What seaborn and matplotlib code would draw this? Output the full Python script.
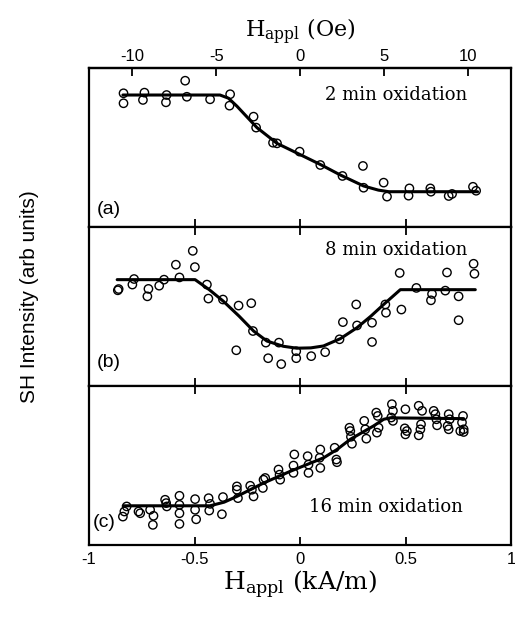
"""
Second-harmonic intensity vs applied field for three oxidation times.
Three stacked panels sharing the field axis (kA/m bottom, Oe on top).
"""

import numpy as np
import pandas as pd
import matplotlib
matplotlib.use("Agg")
import matplotlib.pyplot as plt
import seaborn as sns

# ---- panel (a): 2 min oxidation ----
a_x = [-0.837, -0.837, -0.738, -0.745, -0.633, -0.636, -0.545, -0.537, -0.427,
       -0.332, -0.335, -0.221, -0.209, -0.129, -0.110, -0.003, 0.095, 0.200,
       0.297, 0.300, 0.395, 0.411, 0.517, 0.513, 0.616, 0.619, 0.703, 0.719,
       0.818, 0.833]
a_y = [0.841, 0.778, 0.845, 0.799, 0.830, 0.784, 0.920, 0.819, 0.803,
       0.835, 0.763, 0.694, 0.625, 0.530, 0.526, 0.474, 0.390, 0.321,
       0.384, 0.247, 0.279, 0.191, 0.243, 0.197, 0.243, 0.222, 0.195, 0.208,
       0.253, 0.228]
a_fit_x = [-0.84, -0.38, -0.34, -0.30, -0.205, -0.11, 0.0, 0.10, 0.19, 0.30,
           0.37, 0.42, 0.84]
a_fit_y = [0.83, 0.83, 0.81, 0.76, 0.625, 0.526, 0.455, 0.39, 0.327, 0.258,
           0.232, 0.222, 0.222]

# ---- panel (b): 8 min oxidation ----
b_x = [-0.864, -0.860, -0.795, -0.787, -0.719, -0.724, -0.668, -0.645, -0.589,
       -0.572, -0.509, -0.499, -0.442, -0.435, -0.366, -0.292, -0.232, -0.224,
       -0.303, -0.163, -0.101, -0.152, -0.090, -0.019, -0.019, 0.052, 0.118,
       0.186, 0.202, 0.265, 0.269, 0.340, 0.340, 0.403, 0.406, 0.471, 0.479,
       0.550, 0.624, 0.619, 0.687, 0.695, 0.750, 0.750, 0.821, 0.825]
b_y = [0.602, 0.610, 0.638, 0.673, 0.611, 0.564, 0.631, 0.669, 0.763,
       0.683, 0.850, 0.748, 0.638, 0.550, 0.544, 0.506, 0.521, 0.346,
       0.225, 0.273, 0.273, 0.175, 0.138, 0.219, 0.175, 0.188, 0.213,
       0.294, 0.402, 0.513, 0.381, 0.398, 0.277, 0.513, 0.461, 0.711, 0.481,
       0.617, 0.579, 0.539, 0.600, 0.714, 0.564, 0.414, 0.769, 0.706]
b_fit_x = [-0.867, -0.498, -0.43, -0.364, -0.29, -0.221, -0.158, -0.08, -0.016,
           0.05, 0.110, 0.190, 0.269, 0.335, 0.395, 0.474, 0.829]
b_fit_y = [0.669, 0.669, 0.605, 0.533, 0.44, 0.346, 0.283, 0.25, 0.238,
           0.24, 0.252, 0.298, 0.367, 0.44, 0.513, 0.606, 0.606]

# ---- panel (c): 16 min oxidation ----
c_x = [-0.840, -0.833, -0.822, -0.766, -0.758, -0.711, -0.695, -0.698, -0.640,
       -0.635, -0.632, -0.572, -0.572, -0.572, -0.572, -0.498, -0.498, -0.493,
       -0.434, -0.427, -0.431, -0.366, -0.371, -0.300, -0.300, -0.295, -0.237,
       -0.229, -0.221, -0.174, -0.166, -0.177, -0.103, -0.098, -0.095, -0.028,
       -0.032, -0.032, 0.035, 0.039, 0.039, 0.095, 0.092, 0.095, 0.163, 0.171,
       0.174, 0.233, 0.237, 0.240, 0.245, 0.303, 0.308, 0.313, 0.360, 0.367,
       0.363, 0.371, 0.434, 0.439, 0.431, 0.439, 0.498, 0.495, 0.498, 0.505,
       0.561, 0.577, 0.572, 0.569, 0.561, 0.632, 0.640, 0.645, 0.648, 0.703,
       0.708, 0.698, 0.703, 0.771, 0.766, 0.774, 0.758, 0.774]
c_y = [0.179, 0.211, 0.243, 0.211, 0.200, 0.222, 0.184, 0.127, 0.285,
       0.264, 0.243, 0.310, 0.253, 0.200, 0.133, 0.289, 0.222, 0.162,
       0.295, 0.259, 0.217, 0.302, 0.194, 0.369, 0.348, 0.295, 0.373,
       0.348, 0.306, 0.411, 0.422, 0.359, 0.475, 0.443, 0.411, 0.570,
       0.500, 0.454, 0.559, 0.506, 0.454, 0.601, 0.549, 0.485, 0.612, 0.538,
       0.521, 0.738, 0.717, 0.681, 0.637, 0.781, 0.728, 0.669, 0.833, 0.812,
       0.707, 0.738, 0.886, 0.844, 0.802, 0.781, 0.854, 0.734, 0.696, 0.717,
       0.876, 0.844, 0.759, 0.728, 0.690, 0.844, 0.823, 0.791, 0.753, 0.823,
       0.791, 0.749, 0.728, 0.812, 0.771, 0.728, 0.717, 0.711]
c_fit_x = [-0.838, -0.427, -0.36, -0.300, -0.174, -0.047, 0.111, 0.174, 0.237,
           0.347, 0.395, 0.426, 0.774]
c_fit_y = [0.247, 0.247, 0.27, 0.306, 0.390, 0.464, 0.549, 0.601, 0.665,
           0.749, 0.791, 0.800, 0.795]

panel_labels = ["(a)", "(b)", "(c)"]
panel_titles = ["2 min oxidation", "8 min oxidation", "16 min oxidation"]
kam_ticks = [-1, -0.5, 0, 0.5, 1]
kam_ticklabels = ["-1", "-0.5", "0", "0.5", "1"]
oe_ticks = [-10, -5, 0, 5, 10]

KAM_TO_OE = 4 * np.pi  # 1 kA/m = 4*pi Oe

sns.set_style("ticks")
plt.rcParams["font.family"] = ["Liberation Sans", "DejaVu Sans"]
plt.rcParams["mathtext.fontset"] = "custom"
plt.rcParams["mathtext.rm"] = "DejaVu Serif"
# pure black ink like the printed figure (seaborn defaults to dark grey)
for key in ["text.color", "axes.labelcolor", "xtick.color", "ytick.color",
            "axes.edgecolor"]:
    plt.rcParams[key] = "black"

SERIF = "DejaVu Serif"

fig, axes = plt.subplots(3, 1, figsize=(5.15, 6.18), dpi=100, sharex=True)
fig.subplots_adjust(left=0.173, right=0.993, top=0.890, bottom=0.118, hspace=0)

panels = [
    (a_x, a_y, a_fit_x, a_fit_y),
    (b_x, b_y, b_fit_x, b_fit_y),
    (c_x, c_y, c_fit_x, c_fit_y),
]
text_pos = [(0.896, 0.83), (0.896, 0.855), (0.886, 0.24)]
label_pos = [(0.018, 0.11), (0.018, 0.15), (0.008, 0.14)]

for i, (ax, (px, py, fx, fy)) in enumerate(zip(axes, panels)):
    pts = pd.DataFrame({"H": px, "I": py})
    fit = pd.DataFrame({"H": fx, "I": fy})
    sns.lineplot(data=fit, x="H", y="I", ax=ax, color="black", linewidth=2.2,
                 sort=False, zorder=3)
    sns.scatterplot(data=pts, x="H", y="I", ax=ax, marker="o", s=36,
                    facecolor="none", edgecolor="black", linewidth=1.0, zorder=4)
    ax.set_xlim(-1, 1)
    ax.set_ylim(0, 1)
    ax.set_yticks([])
    ax.set_xlabel("")
    ax.set_ylabel("")
    for sp in ax.spines.values():
        sp.set_linewidth(1.6)
        sp.set_visible(True)
    ax.set_xticks(kam_ticks)
    ax.tick_params(axis="x", direction="in", length=6, width=1.3,
                   top=(i > 0), bottom=True, labelbottom=(i == 2),
                   labelsize=12, pad=5)
    tx, ty = text_pos[i]
    ax.text(tx, ty, panel_titles[i], transform=ax.transAxes, ha="right",
            va="center", fontsize=13, family=SERIF)
    lx, ly = label_pos[i]
    ax.text(lx, ly, panel_labels[i], transform=ax.transAxes, ha="left",
            va="center", fontsize=14)

axes[2].set_xticklabels(kam_ticklabels)
axes[2].set_xlabel(r"H$_{\rm appl}$ (kA/m)", family=SERIF, fontsize=18,
                   labelpad=1)

top = axes[0].secondary_xaxis("top", functions=(lambda v: v * KAM_TO_OE,
                                                 lambda v: v / KAM_TO_OE))
top.set_xticks(oe_ticks)
top.set_xticklabels([str(t) for t in oe_ticks])
top.tick_params(direction="in", length=6, width=1.3, labelsize=12, pad=3)
top.spines["top"].set_linewidth(1.6)
top.set_xlabel(r"H$_{\rm appl}$ (Oe)", family=SERIF, fontsize=16, labelpad=8)

fig.text(0.058, 0.52, "SH Intensity (arb units)", rotation=90, ha="center",
         va="center", fontsize=15)

plt.savefig("out.png", dpi=100)
plt.close()
